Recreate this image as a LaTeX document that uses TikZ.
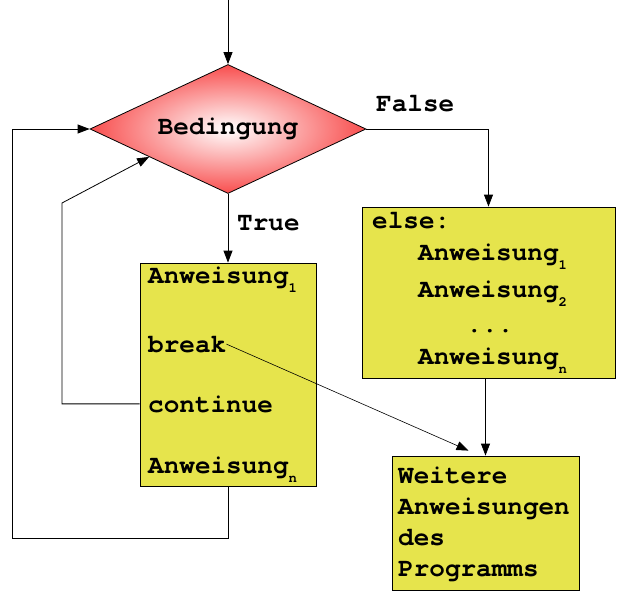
\documentclass[tikz,border=0pt]{standalone}
\usepackage{fontspec}
\setmonofont{TeX Gyre Cursor}
\usetikzlibrary{shapes.geometric,arrows.meta,calc}

\definecolor{boxyellow}{RGB}{230,228,76}
\definecolor{condred}{RGB}{248,78,78}

% lowered index after a statement
\newcommand{\idx}[1]{\raisebox{-9pt}{\fontsize{14}{14}\selectfont #1}}

\begin{document}
\begin{tikzpicture}[x=1pt, y=-1pt,
    font=\ttfamily\bfseries\fontsize{26}{31}\selectfont,
    box/.style={draw, fill=boxyellow, line width=0.8pt, inner sep=0pt},
    txt/.style={anchor=base west, inner sep=0pt},
    flow/.style={line width=0.8pt, -{Triangle[length=12pt,width=9pt]}},
  ]

\def\lineLeft{148}
\def\elseIn{418}

\useasboundingbox (0,0) rectangle (619,594);

% condition
\node [diamond, aspect=2.14, minimum width=276pt, minimum height=129pt,
       inner sep=0pt, draw, line width=0.8pt,
       inner color=white, outer color=condred] (cond) at (228,129) {Bedingung};

% loop body
\node [box, minimum width=176pt, minimum height=223pt] (loopbox) at (228,374.5) {};
\node [txt] (stmtA) at (\lineLeft,283) {Anweisung\idx{1}};
\node [txt] (brk) at (\lineLeft,352) {break};
\node [txt] (cont) at (\lineLeft,412) {continue};
\node [txt] (stmtN) at (\lineLeft,473) {Anweisung\idx{n}};

% else part
\node [box, minimum width=253pt, minimum height=171pt] (elsebox) at (488.5,292.5) {};
\node [txt] (elsekw) at (372,228) {else:};
\node [txt] (elseA) at (\elseIn,260) {Anweisung\idx{1}};
\node [txt] (elseB) at (\elseIn,297) {Anweisung\idx{2}};
\node [anchor=base, inner sep=0pt] (elsedots) at (490,332) {...};
\node [txt] (elseN) at (\elseIn,364) {Anweisung\idx{n}};

% rest of the program
\node [box, minimum width=187pt, minimum height=134pt] (restbox) at (485.5,523) {};
\node [txt] (restA) at (398,483) {Weitere};
\node [txt] (restB) at (398,514) {Anweisungen};
\node [txt] (restC) at (398,545) {des};
\node [txt] (restD) at (398,576) {Programms};

% entry
\coordinate (entry) at (228,0);
\draw [flow] (entry) -- (cond.north);

% true / false
\draw [flow] (cond.south) -- (loopbox.north);
\node [txt] (truelbl) at (237,230) {True};
\draw [flow] (cond.east) -| (elsebox.north);
\node [txt] (falselbl) at (376,112) {False};
\draw [flow] (elsebox.south -| restbox.north) -- (restbox.north);

% back to the condition
\coordinate (back) at (12,538);
\draw [flow] (loopbox.south) |- (back) |- (cond.west);

% continue
\coordinate (contbend) at (62,203);
\draw [flow] (cont.west -| loopbox.west) -| (contbend) -- ($(cond.west)!0.43!(cond.south)$);

% break
\draw [line width=0.6pt, -{Triangle[length=12pt,width=9pt]}] (brk.east)
      -- ([xshift=-17pt,yshift=5pt]restbox.north);

\end{tikzpicture}
\end{document}
